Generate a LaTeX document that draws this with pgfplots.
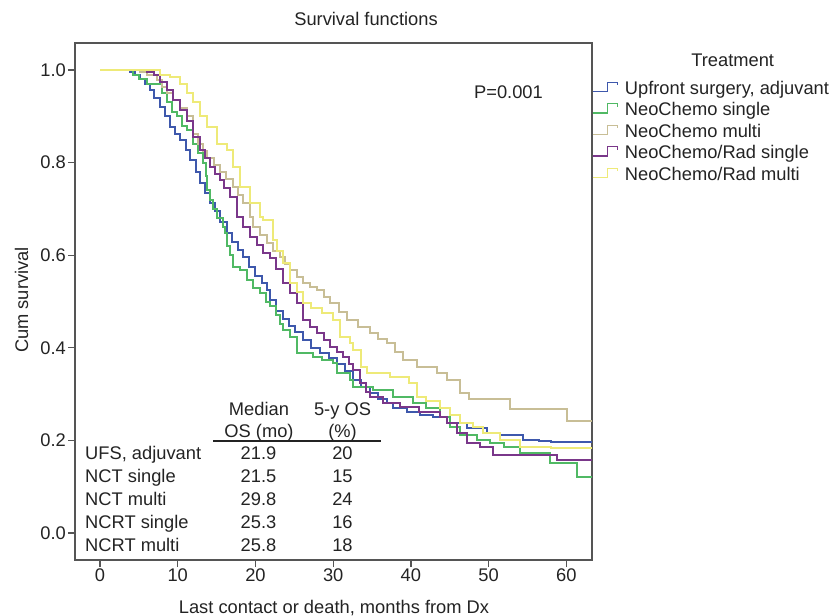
\documentclass[border=0pt]{standalone}
\usepackage{fontspec}
\setmainfont{Liberation Sans}
\usepackage{pgfplots}
\pgfplotsset{compat=1.18}

\definecolor{cblue}{RGB}{62,88,172}
\definecolor{cgreen}{RGB}{80,185,100}
\definecolor{ctan}{RGB}{200,190,150}
\definecolor{cpurple}{RGB}{122,55,138}
\definecolor{cyellow}{RGB}{238,234,120}
\definecolor{axgray}{RGB}{85,85,85}
\definecolor{txt}{RGB}{35,35,35}
\newcommand{\fs}{\fontsize{18.3}{22}\selectfont}

\begin{document}
\begin{tikzpicture}
\path[use as bounding box] (0,0) rectangle (836pt,-616pt);
\begin{axis}[
    at={(75pt,-560pt)}, anchor=south west,
    scale only axis, width=517pt, height=517pt,
    xmin=-3.22, xmax=63.3, ymin=-0.0583, ymax=1.0583,
    xtick={0,10,20,30,40,50,60},
    ytick={0,0.2,0.4,0.6,0.8,1.0},
    tick pos=left, tick align=outside, major tick length=7pt,
    axis line style={axgray, line width=1.3pt},
    tick style={axgray, line width=1.3pt},
    tick label style={font=\fs, text=txt, inner sep=2pt},
    /pgf/number format/assume math mode=true,
    yticklabel style={/pgf/number format/.cd, fixed, fixed zerofill, precision=1},
    clip=true,
    legend cell align=left,
    legend image code/.code={\draw[#1, line width=1.4pt] (0pt,2.6pt) -- (15pt,2.6pt) -- (15pt,12pt) -- (25pt,12pt) -- (25pt,9pt);},
    legend style={at={(rel axis cs:1,0.9279)}, anchor=north west, draw=none, fill=none,
        inner sep=0pt, outer sep=0pt, row sep=0pt, column sep=6.5pt,
        font=\fs, text=txt, cells={anchor=base west},
        nodes={inner sep=0pt, text height=14pt, text depth=7.5pt}},
    every axis plot/.append style={const plot, line width=2pt},
]
% Upfront surgery, adjuvant
\addplot[cblue] coordinates {
(0,1.0) (3.9,0.995) (4.5,0.99) (5.2,0.98) (5.8,0.97) (6.4,0.957) (7.0,0.94) (7.7,0.92)
(8.3,0.90) (9.0,0.877) (9.6,0.862) (10.3,0.849) (11.0,0.828) (11.6,0.806) (12.3,0.78)
(12.9,0.756) (13.5,0.735) (14.2,0.713) (14.8,0.695) (15.5,0.672) (16.3,0.648) (17.0,0.628)
(17.7,0.612) (18.4,0.596) (19.2,0.575) (20.0,0.556) (20.8,0.54) (21.5,0.525) (21.9,0.503)
(22.7,0.48) (23.5,0.462) (24.3,0.448) (25.1,0.434) (26.1,0.417) (27.2,0.40) (28.3,0.389)
(29.4,0.377) (30.5,0.365) (31.5,0.35) (32.6,0.33) (33.6,0.315) (34.7,0.302) (35.8,0.29)
(36.9,0.28) (37.7,0.27) (39.5,0.261) (41.2,0.255) (42.9,0.25) (45.0,0.238) (47.2,0.227)
(49.8,0.216) (51.5,0.212) (54.4,0.201) (56.5,0.199) (58.0,0.197) (63.3,0.197)
};
\addlegendentry{Upfront surgery, adjuvant}
% NeoChemo single
\addplot[cgreen] coordinates {
(0,1.0) (4.2,0.99) (5.0,0.98) (6.0,0.97) (8.0,0.95) (8.6,0.93) (9.3,0.91) (9.9,0.90)
(10.5,0.88) (11.2,0.87) (12.0,0.84) (12.6,0.82) (13.3,0.80) (13.6,0.77) (13.8,0.74)
(14.2,0.72) (14.5,0.70) (15.1,0.68) (15.8,0.66) (16.1,0.648) (16.3,0.62) (16.7,0.60)
(17.1,0.575) (18.0,0.568) (18.9,0.546) (19.7,0.53) (20.6,0.518) (21.3,0.50) (21.9,0.49)
(22.6,0.47) (23.2,0.452) (23.6,0.438) (24.5,0.423) (25.3,0.389) (27.4,0.38) (28.5,0.374)
(30.0,0.367) (30.5,0.346) (32.2,0.33) (32.6,0.315) (35.1,0.309) (37.7,0.294) (40.3,0.28)
(42.0,0.27) (43.8,0.25) (45.0,0.229) (46.3,0.212) (48.5,0.20) (50.2,0.194) (52.0,0.185)
(54.0,0.173) (57.9,0.151) (61.4,0.121) (63.3,0.121)
};
\addlegendentry{NeoChemo single}
% NeoChemo multi
\addplot[ctan] coordinates {
(0,1.0) (5.2,0.995) (6.0,0.989) (7.3,0.978) (8.0,0.963) (8.6,0.95) (9.4,0.935) (10.3,0.918)
(11.2,0.90) (12.0,0.862) (12.6,0.84) (13.2,0.825) (13.8,0.81) (14.6,0.795) (15.4,0.78)
(16.2,0.765) (17.1,0.747) (17.8,0.73) (18.4,0.713) (19.3,0.683) (19.7,0.66) (20.6,0.643)
(21.5,0.626) (22.3,0.61) (23.2,0.596) (23.8,0.58) (24.5,0.568) (25.3,0.553) (26.1,0.54)
(27.0,0.532) (27.9,0.525) (28.8,0.51) (29.6,0.497) (30.7,0.478) (31.8,0.46) (33.2,0.445)
(34.7,0.432) (35.8,0.42) (36.9,0.41) (38.0,0.39) (39.0,0.374) (40.8,0.359) (43.4,0.346)
(44.7,0.33) (46.3,0.302) (47.5,0.29) (52.8,0.268) (60.1,0.241) (63.3,0.241)
};
\addlegendentry{NeoChemo multi}
% NeoChemo/Rad single
\addplot[cpurple] coordinates {
(0,1.0) (6.0,0.995) (7.0,0.99) (7.7,0.975) (8.6,0.957) (9.4,0.935) (10.3,0.914) (11.2,0.89)
(12.0,0.855) (12.9,0.827) (13.5,0.81) (14.2,0.79) (14.8,0.776) (15.4,0.762) (16.0,0.745)
(16.7,0.726) (17.6,0.683) (18.4,0.66) (19.3,0.64) (20.2,0.622) (21.0,0.605) (21.9,0.594)
(22.7,0.57) (23.6,0.54) (24.5,0.518) (25.3,0.497) (26.1,0.46) (27.0,0.445) (27.9,0.432)
(28.8,0.417) (29.6,0.402) (30.5,0.39) (31.3,0.38) (32.0,0.365) (32.6,0.352) (33.5,0.324)
(34.2,0.305) (34.7,0.294) (36.4,0.28) (38.6,0.272) (41.0,0.262) (43.8,0.25) (44.7,0.238)
(45.9,0.216) (47.2,0.194) (48.9,0.186) (50.6,0.168) (58.8,0.158) (63.3,0.158)
};
\addlegendentry{NeoChemo/Rad single}
% NeoChemo/Rad multi
\addplot[cyellow] coordinates {
(0,1.0) (7.7,0.99) (9.0,0.985) (10.3,0.97) (11.2,0.95) (12.0,0.93) (12.9,0.90) (13.8,0.877)
(15.0,0.84) (16.3,0.827) (17.1,0.79) (18.0,0.747) (19.3,0.713) (20.6,0.683) (21.0,0.676)
(22.3,0.633) (22.8,0.61) (23.6,0.583) (24.5,0.54) (25.3,0.52) (26.1,0.497) (27.2,0.485)
(28.6,0.475) (30.0,0.46) (30.9,0.423) (32.1,0.41) (32.6,0.395) (33.6,0.359) (34.4,0.346)
(37.3,0.337) (39.8,0.324) (40.8,0.294) (42.0,0.285) (43.8,0.27) (45.0,0.255) (46.3,0.238)
(48.0,0.23) (49.3,0.216) (51.5,0.201) (54.0,0.186) (58.0,0.184) (63.3,0.184)
};
\addlegendentry{NeoChemo/Rad multi}
\end{axis}
\begin{scope}[every node/.style={font=\fs, text=txt, inner sep=0pt}]
\node[anchor=base] at (366pt,-25pt) {Survival functions};
\node[anchor=base] at (508.5pt,-98pt) {P=0.001};
\node[anchor=base, rotate=90] at (28pt,-300pt) {Cum survival};
\node[anchor=base] at (334pt,-613pt) {Last contact or death, months from Dx};
\node[anchor=base] at (732.7pt,-66.7pt) {Treatment};
% summary table
\node[anchor=base] at (259pt,-415pt) {Median};
\node[anchor=base] at (259pt,-437pt) {OS (mo)};
\node[anchor=base] at (342.5pt,-415pt) {5-y OS};
\node[anchor=base] at (342.5pt,-437pt) {(\%)};
\draw[txt, line width=1.2pt] (213pt,-441pt) -- (381pt,-441pt);
\node[anchor=base west] at (85pt,-459pt) {UFS, adjuvant};
\node[anchor=base west] at (85pt,-482pt) {NCT single};
\node[anchor=base west] at (85pt,-505pt) {NCT multi};
\node[anchor=base west] at (85pt,-528pt) {NCRT single};
\node[anchor=base west] at (85pt,-551pt) {NCRT multi};
\node[anchor=base] at (258.5pt,-459pt) {21.9};
\node[anchor=base] at (258.5pt,-482pt) {21.5};
\node[anchor=base] at (258.5pt,-505pt) {29.8};
\node[anchor=base] at (258.5pt,-528pt) {25.3};
\node[anchor=base] at (258.5pt,-551pt) {25.8};
\node[anchor=base] at (342.5pt,-459pt) {20};
\node[anchor=base] at (342.5pt,-482pt) {15};
\node[anchor=base] at (342.5pt,-505pt) {24};
\node[anchor=base] at (342.5pt,-528pt) {16};
\node[anchor=base] at (342.5pt,-551pt) {18};
\end{scope}
\end{tikzpicture}
\end{document}
